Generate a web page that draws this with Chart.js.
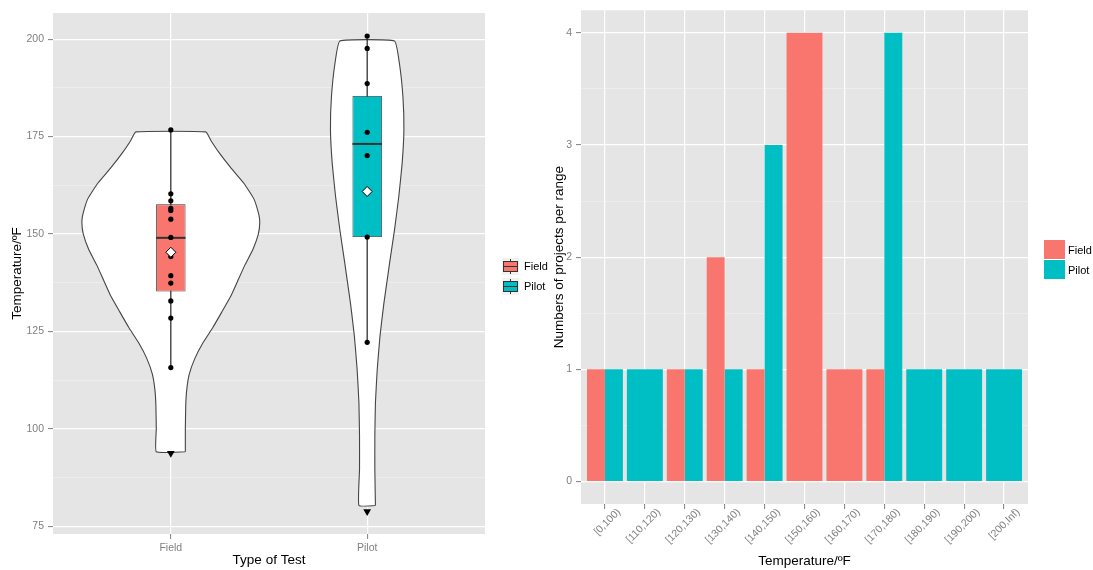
<!DOCTYPE html>
<html>
<head>
<meta charset="utf-8">
<title>Temperature by type of test</title>
<script src="https://cdn.jsdelivr.net/npm/chart.js@4.4.1/dist/chart.umd.min.js"></script>
<style>
  body { margin: 0; background: #fff; font-family: "Liberation Sans", Arial, sans-serif; }
  #wrap { position: relative; width: 1093px; height: 570px; overflow: hidden; }
  canvas { position: absolute; top: 0; }
  .txt  { position: absolute; font-size: 11px; line-height: 12px; color: #000; }
  .bkey { position: absolute; width: 17px; height: 17px; background: #F2F2F2; }
  .bkey .wh { position: absolute; left: 8px; top: 1px; width: 1px; height: 15px; background: #333; }
  .bkey .bx { position: absolute; left: 1px; top: 3px; width: 13px; height: 9px; border: 1px solid #333; }
  .bkey .md { position: absolute; left: 1px; top: 8px; width: 15px; height: 1px; background: #333; }
  .fkey { position: absolute; width: 21px; height: 19px; }
</style>
</head>
<body>
<div id="wrap">
  <canvas id="violin" width="545" height="570" style="left:0"></canvas>
  <canvas id="bars" width="548" height="570" style="left:545px"></canvas>

  <div class="bkey" style="left:502px; top:258px"><div class="wh"></div><div class="bx" style="background:#F8766D"></div><div class="md"></div></div>
  <div class="txt" style="left:524px; top:260px">Field</div>
  <div class="bkey" style="left:502px; top:278px"><div class="wh"></div><div class="bx" style="background:#00BFC4"></div><div class="md"></div></div>
  <div class="txt" style="left:524px; top:280px">Pilot</div>

  <div class="fkey" style="left:1044px; top:240px; background:#F8766D"></div>
  <div class="txt" style="left:1068px; top:244px">Field</div>
  <div class="fkey" style="left:1044px; top:260px; background:#00BFC4"></div>
  <div class="txt" style="left:1068px; top:264px">Pilot</div>
</div>

<script>
const groups      = ['Field', 'Pilot'];
const groupColors = ['#F8766D', '#00BFC4'];

// ---- left panel: temperatures
const fieldTemps = [176.7, 160.3, 158.5, 156.6, 156.0, 153.8, 149.1, 144.2, 139.3, 137.4, 132.8, 128.4, 115.7];
const pilotTemps = [200.8, 197.6, 188.6, 176.1, 170.1, 149.2, 122.2];
const lowTemps   = [93.7, 78.8];     // triangle markers under each violin
const meanTemps  = [145.3, 160.9];

// lower whisker, Q1, median, Q3, upper whisker
const fieldBox = [115.7, 135.2, 149.0, 157.6, 176.7];
const pilotBox = [122.2, 149.2, 173.1, 185.4, 200.8];

// violin outlines: temperature / half width (category units)
const fieldViolinT = [94.1, 100, 106, 110, 114, 118, 122, 126, 130, 134, 138, 142, 146, 150, 153, 155, 159, 163, 167, 171, 174, 176.2];
const fieldViolinW = [0.074, 0.074, 0.076, 0.081, 0.094, 0.122, 0.163, 0.214, 0.260, 0.305, 0.341, 0.377, 0.418, 0.446, 0.453, 0.448, 0.423, 0.372, 0.305, 0.244, 0.204, 0.178];
const pilotViolinT = [80.3, 89.5, 98.0, 106.6, 115.1, 123.7, 132.2, 138.2, 142.5, 151.0, 159.6, 168.1, 176.7, 185.2, 193.8, 199.5];
const pilotViolinW = [0.042, 0.039, 0.039, 0.042, 0.051, 0.065, 0.085, 0.102, 0.114, 0.139, 0.161, 0.178, 0.187, 0.182, 0.164, 0.139];

const tempTicks = [75, 100, 125, 150, 175, 200];
const tempMinor = [87.5, 112.5, 137.5, 162.5, 187.5];

// ---- right panel: projects per temperature range
const ranges      = ['[0,100)', '[110,120)', '[120,130)', '[130,140)', '[140,150)', '[150,160)', '[160,170)', '[170,180)', '[180,190)', '[190,200)', '[200,Inf)'];
const fieldCounts = [1, null, 1, 2, 1, 4, 1, 1, null, null, null];
const pilotCounts = [1, 1, 1, 1, 3, null, null, 4, 1, 1, 1];
const countTicks  = [0, 1, 2, 3, 4];
const countMinor  = [0.5, 1.5, 2.5, 3.5];

const FONT = 'Liberation Sans';
Chart.defaults.font.family = FONT;
Chart.defaults.animation = false;
Chart.defaults.events = [];

const panelBg = {
  id: 'panelBg',
  beforeDraw(chart) {
    const { ctx, chartArea: a } = chart;
    ctx.save();
    ctx.fillStyle = '#E5E5E5';
    ctx.fillRect(a.left, a.top, a.right - a.left, a.bottom - a.top);
    ctx.restore();
  }
};

// ggplot style axis: major ticks with labels, minor ones only as faint grid
function ggScale(major, minor, extra) {
  const isMajor = c => c.tick !== undefined && major.includes(c.tick.value);
  return Object.assign({
    offset: false,
    afterBuildTicks: s => { s.ticks = major.concat(minor).sort((a, b) => a - b).map(v => ({ value: v })); },
    border: { display: false },
    grid: {
      offset: false,
      color: c => isMajor(c) ? '#FFFFFF' : '#F2F2F2',
      lineWidth: c => isMajor(c) ? 1.2 : 0.6,
      tickColor: c => isMajor(c) ? '#7F7F7F' : 'rgba(0,0,0,0)',
      tickWidth: 1,
      tickLength: 5
    },
    ticks: { autoSkip: false, padding: 4, color: '#7F7F7F', font: { size: 10.5 },
             callback: v => major.includes(v) ? v : '' }
  }, extra);
}

function violinOutline(center, temps, widths) {
  const right = temps.map((t, i) => ({ x: center + widths[i], y: t }));
  const left  = temps.map((t, i) => ({ x: center - widths[i], y: t })).reverse();
  return right.concat(left, [right[0]]);
}

const boxes = [fieldBox, pilotBox];
const violins = [[fieldViolinT, fieldViolinW], [pilotViolinT, pilotViolinW]];

const leftSets = [
  { data: meanTemps.map((m, i) => ({ x: i + 1, y: m })), pointStyle: 'rectRot', pointRadius: 5,
    backgroundColor: '#FFFFFF', borderColor: '#000', borderWidth: 1, order: 0 },
  { data: fieldTemps.map(t => ({ x: 1, y: t })).concat(pilotTemps.map(t => ({ x: 2, y: t }))),
    pointRadius: 2.6, backgroundColor: '#000', borderWidth: 0, order: 1 },
  { data: lowTemps.map((t, i) => ({ x: i + 1, y: t })), pointStyle: 'triangle', pointRotation: 180,
    pointRadius: 4.5, backgroundColor: '#000', borderWidth: 0, order: 1 },
  { type: 'bar', data: boxes.map((b, i) => ({ x: i + 1, y: [b[1], b[3]] })), backgroundColor: groupColors,
    borderColor: '#333', borderWidth: 0.8, borderSkipped: false, barPercentage: 0.15, categoryPercentage: 1, order: 3 }
];
boxes.forEach((b, i) => {
  leftSets.push({ data: [{ x: i + 1 - 0.075, y: b[2] }, { x: i + 1 + 0.075, y: b[2] }], showLine: true,
                  pointRadius: 0, borderColor: '#333', borderWidth: 2, order: 2 });
  leftSets.push({ data: [{ x: i + 1, y: b[0] }, { x: i + 1, y: b[4] }], showLine: true,
                  pointRadius: 0, borderColor: '#222', borderWidth: 1.2, order: 4 });
});
violins.forEach(([t, w], i) => {
  leftSets.push({ data: violinOutline(i + 1, t, w), showLine: true, pointRadius: 0, tension: 0.12,
                  borderColor: '#444', borderWidth: 1.1, backgroundColor: '#FFFFFF', fill: 'shape', order: 5 });
});

new Chart(document.getElementById('violin'), {
  type: 'scatter',
  data: { datasets: leftSets },
  plugins: [panelBg],
  options: {
    responsive: false,
    layout: { padding: { left: 0, top: 13, right: 60, bottom: 0 } },
    plugins: { legend: { display: false }, tooltip: { enabled: false } },
    scales: {
      x: ggScale([1, 2], [], {
        type: 'linear', min: 0.4, max: 2.6,
        afterFit: s => { s.height = 36; },
        ticks: { autoSkip: false, padding: 3, color: '#7F7F7F', font: { size: 10.5 }, maxRotation: 0,
                 callback: v => groups[v - 1] },
        title: { display: true, text: 'Type of Test', color: '#000', font: { size: 13.5 }, padding: { top: 0, bottom: 2 } }
      }),
      y: ggScale(tempTicks, tempMinor, {
        min: 73, max: 206.7,
        afterFit: s => { s.width = 53; },
        title: { display: true, text: 'Temperature/ºF', color: '#000', font: { size: 13.5 }, padding: { top: 9, bottom: 0 } }
      })
    }
  }
});

const barSet = (label, counts, color) => ({
  label, data: counts.map((c, i) => ({ x: i + 1, y: c })), backgroundColor: color, borderWidth: 0,
  skipNull: true, categoryPercentage: 0.9, barPercentage: 1
});

new Chart(document.getElementById('bars'), {
  type: 'bar',
  data: { datasets: [barSet('Field', fieldCounts, groupColors[0]), barSet('Pilot', pilotCounts, groupColors[1])] },
  plugins: [panelBg],
  options: {
    responsive: false,
    layout: { padding: { left: 0, top: 10, right: 65, bottom: 0 } },
    plugins: { legend: { display: false }, tooltip: { enabled: false } },
    scales: {
      x: ggScale(ranges.map((r, i) => i + 1), [], {
        type: 'linear', min: 0.4, max: 11.6,
        afterFit: s => { s.height = 66; },
        ticks: { autoSkip: false, padding: -3, labelOffset: 14, color: '#7F7F7F', font: { size: 10.5 }, minRotation: 45, maxRotation: 45,
                 callback: v => ranges[v - 1] },
        title: { display: true, text: 'Temperature/ºF', color: '#000', font: { size: 13.5 }, padding: { top: 0, bottom: 1 } }
      }),
      y: ggScale(countTicks, countMinor, {
        min: -0.2, max: 4.2,
        afterFit: s => { s.width = 36; },
        title: { display: true, text: 'Numbers of projects per range', color: '#000', font: { size: 13.5 }, padding: { top: 6, bottom: 0 } }
      })
    }
  }
});
</script>
</body>
</html>
